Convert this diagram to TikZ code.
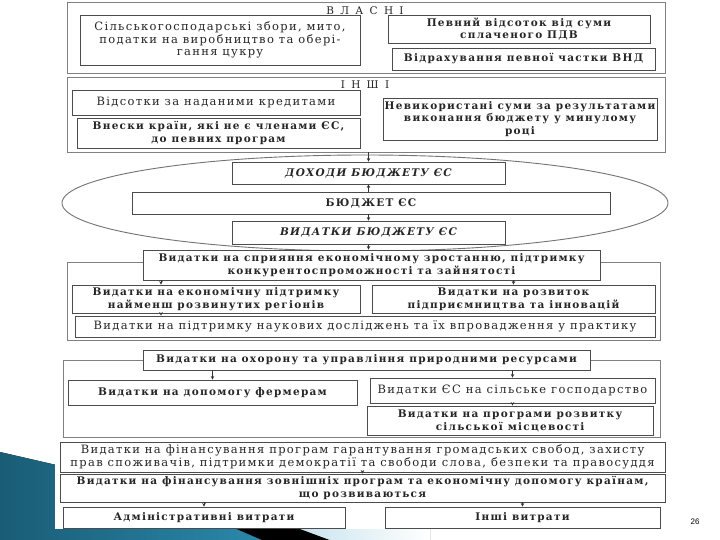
\documentclass[tikz,border=0pt]{standalone}
\usepackage{fontspec}
\usetikzlibrary{arrows.meta,shapes.geometric}
\newfontfamily\scanfont{DejaVu Serif}[LetterSpace=11.5]
\newfontfamily\scanboldfont{DejaVu Serif}[LetterSpace=12]
\newfontfamily\headfont{DejaVu Serif}[LetterSpace=60]
\newfontfamily\numfont{Liberation Sans}
\definecolor{ribbon}{HTML}{2A88AA}
\definecolor{ribbondark}{HTML}{1A5C76}
\definecolor{ribbonlight}{HTML}{C7E3EE}
\definecolor{inkgray}{HTML}{262626}

\tikzset{
  frame/.style={draw=black!50, line width=0.9pt, inner sep=0pt, minimum width=10pt},
  box/.style={draw=black!70, line width=0.8pt, fill=white, align=center, inner sep=1pt,
    text=inkgray, font=\scanfont\fontsize{11.5}{12.8}\selectfont},
  bbox/.style={box, font=\scanboldfont\bfseries\fontsize{10.5}{12.8}\selectfont},
  ibox/.style={box, font=\scanboldfont\bfseries\itshape\fontsize{10.5}{12.8}\selectfont},
  head/.style={text=inkgray, inner sep=0pt, font=\headfont\fontsize{10.5}{12}\selectfont},
  arr/.style={-{Stealth[length=3.5pt,width=3.5pt]}, line width=0.6pt, draw=black!80},
}

\begin{document}
\begin{tikzpicture}[x=1pt, y=-1pt]
\useasboundingbox (0,0) rectangle (720,540);

% slide background
\fill[left color=ribbondark, right color=ribbon] (0,452) -- (260,512) -- (262,540) -- (0,540) -- cycle;
\fill[black] (232,527) -- (295,527) -- (330,540) -- (262,540) -- cycle;
\fill[left color=ribbonlight, right color=white] (295,527) -- (430,527) -- (430,540) -- (330,540) -- cycle;
\fill[white] (55,0) rectangle (668,529);

% ВЛАСНІ
\node[frame, minimum width=598, minimum height=71] (vlasni) at (366,37.5) {};
\node[head] (vlasnititle) at (365,11) {ВЛАСНІ};
\node[box, minimum width=280, minimum height=50] (vl1) at (220,40) {Сільськогосподарські збори, мито,\\податки на виробництво та обері-\\гання цукру};
\node[bbox, minimum width=262, minimum height=28] (vl2) at (519,29) {Певний відсоток від суми\\сплаченого ПДВ};
\node[bbox, minimum width=263, minimum height=22] (vl3) at (523.5,59) {Відрахування певної частки ВНД};

% ІНШІ
\node[frame, minimum width=598, minimum height=75] (inshi) at (366,114.5) {};
\node[head] (inshititle) at (365,85) {ІНШІ};
\node[box, minimum width=288, minimum height=25] (in1) at (216,102.5) {Відсотки за наданими кредитами};
\node[bbox, minimum width=283, minimum height=30] (in2) at (218.5,133) {Внески країн, які не є членами ЄС,\\до певних програм};
\node[bbox, minimum width=274, minimum height=42] (in3) at (520,119) {Невикористані суми за результатами\\виконання бюджету у минулому\\році};

% бюджет
\node[draw=black!55, line width=0.9pt, ellipse, minimum width=606, minimum height=96] (oval) at (365,203) {};
\node[ibox, minimum width=273, minimum height=22] (dohody) at (368.5,173) {ДОХОДИ БЮДЖЕТУ ЄС};
\node[bbox, minimum width=478, minimum height=22] (budget) at (371,203) {БЮДЖЕТ ЄС};
\node[ibox, minimum width=273, minimum height=23] (vydatky) at (368.5,232.5) {ВИДАТКИ БЮДЖЕТУ ЄС};

% економічне зростання
\node[frame, minimum width=593, minimum height=78] (g1frame) at (363.5,301) {};
\node[bbox, minimum width=457, minimum height=30] (g1top) at (371.5,265) {Видатки на сприяння економічному зростанню, підтримку\\конкурентоспроможності та зайнятості};
\node[bbox, minimum width=288, minimum height=28] (g1l) at (216,299) {Видатки на економічну підтримку\\найменш розвинутих регіонів};
\node[bbox, minimum width=283, minimum height=28] (g1r) at (513.5,299) {Видатки на розвиток\\підприємництва та інновацій};
\node[box, minimum width=580, minimum height=21] (g1b) at (365,326.5) {Видатки на підтримку наукових досліджень та їх впровадження у практику};

% природні ресурси
\node[frame, minimum width=597, minimum height=77] (g2frame) at (361.5,398.5) {};
\node[bbox, minimum width=447, minimum height=20] (g2top) at (366.5,360) {Видатки на охорону та управління природними ресурсами};
\node[bbox, minimum width=289, minimum height=25] (g2l) at (212.5,392.5) {Видатки на допомогу фермерам};
\node[box, minimum width=285, minimum height=25] (g2r1) at (512.5,390.5) {Видатки ЄС на сільське господарство};
\node[bbox, minimum width=286, minimum height=29] (g2r2) at (510,420.5) {Видатки на програми розвитку\\сільської місцевості};

% інші видатки
\node[box, minimum width=605, minimum height=30] (g3a) at (362.5,457) {Видатки на фінансування програм гарантування громадських свобод, захисту\\прав споживачів, підтримки демократії та свободи слова, безпеки та правосуддя};
\node[bbox, minimum width=605, minimum height=28] (g3b) at (362.5,488) {Видатки на фінансування зовнішніх програм та економічну допомогу країнам,\\що розвиваються};
\node[bbox, minimum width=282, minimum height=21] (adm) at (204,517.5) {Адміністративні витрати};
\node[bbox, minimum width=275, minimum height=21] (other) at (522.5,517.5) {Інші витрати};

\node[font=\numfont\fontsize{8}{8}\selectfont] (pagenum) at (695,522) {26};

% стрілки
\draw[arr] (dohody.north |- inshi.south) -- (dohody.north);
\draw[arr] (dohody.south |- budget.north) -- (dohody.south);
\draw[arr] (vydatky.north |- budget.south) -- (vydatky.north);
\draw[arr] (vydatky.south) -- (vydatky.south |- g1top.north);
\draw[arr] ([xshift=-55pt]g1l.north |- g1top.south) -- ([xshift=-55pt]g1l.north);
\draw[arr] (g1r.north |- g1top.south) -- (g1r.north);
\draw[arr] ([xshift=-55pt]g1l.south) -- ([xshift=-55pt]g1l.south |- g1b.north);
\draw[arr] (g2l.north |- g2top.south) -- (g2l.north);
\draw[arr] (g2r1.north |- g2top.south) -- (g2r1.north);
\draw[arr] (g2r1.south) -- (g2r1.south |- g2r2.north);
\draw[arr] (g3a.south) -- (g3b.north);
\draw[arr] (adm.north |- g3b.south) -- (adm.north);
\draw[arr] (other.north |- g3b.south) -- (other.north);

\end{tikzpicture}
\end{document}
